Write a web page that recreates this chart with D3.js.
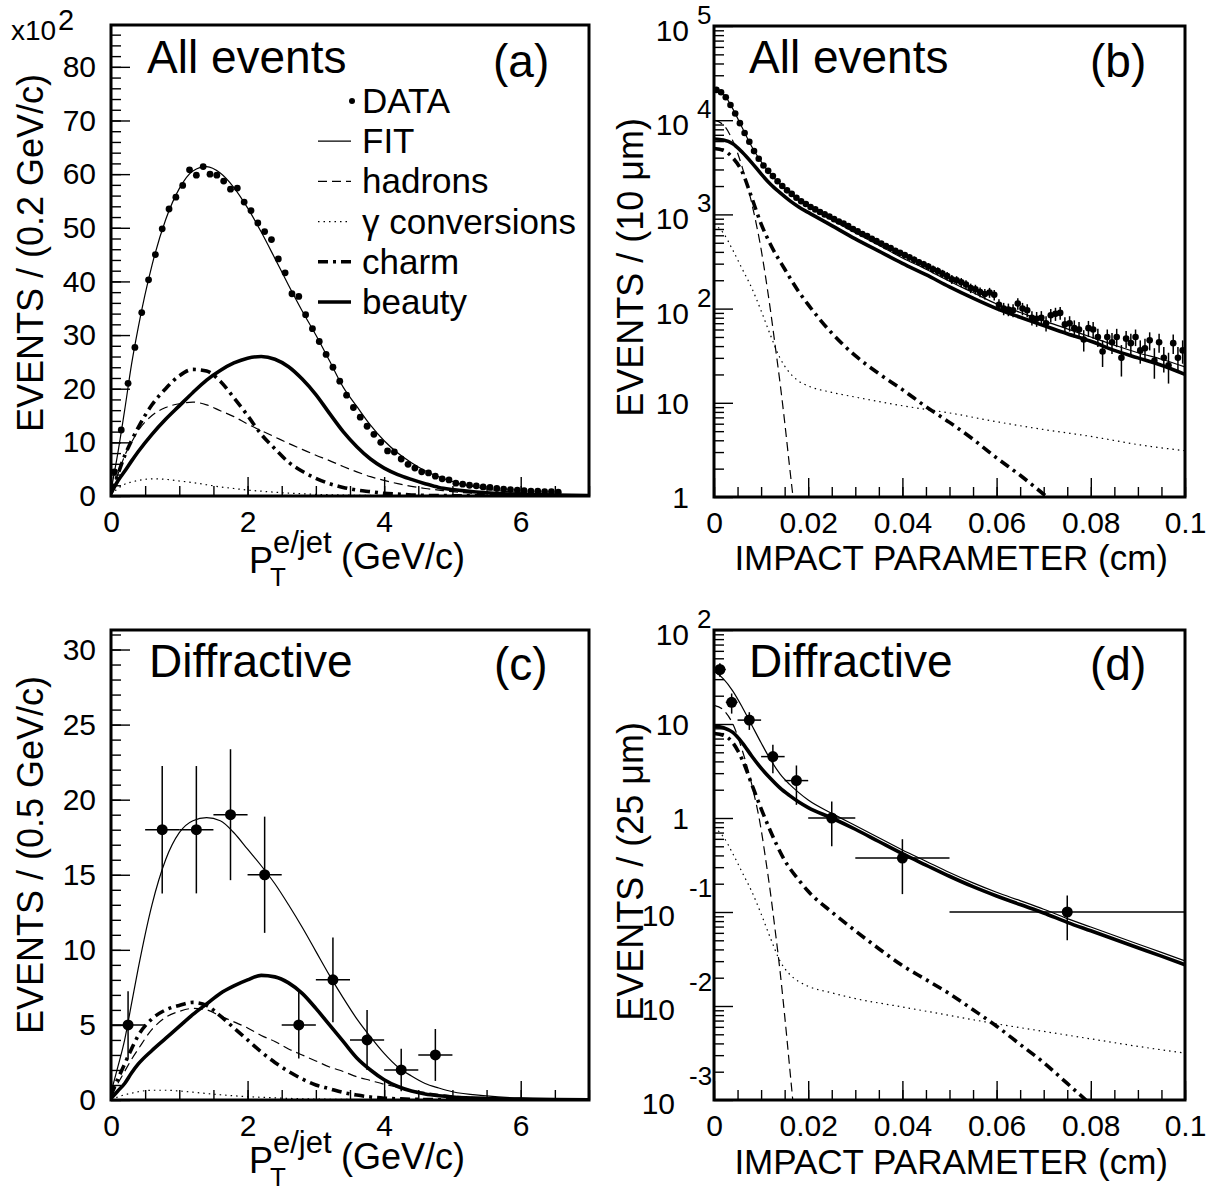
<!DOCTYPE html>
<html>
<head>
<meta charset="utf-8">
<script src="https://cdn.jsdelivr.net/npm/d3@7"></script>
<style>
  body { margin: 0; background: #fff; }
  text { font-family: "Liberation Sans", Arial, Helvetica, sans-serif; fill: #000; }
</style>
</head>
<body>
<svg id="chart" width="1211" height="1194"></svg>
<script>
// ---- panel (a): P_T e/jet, all events (x10^2 events per bin)
const ptDataX = [0.05, 0.15, 0.25, 0.35, 0.45, 0.55, 0.65, 0.75, 0.85, 0.95, 1.05, 1.15, 1.25, 1.35, 1.45,
  1.55, 1.65, 1.75, 1.85, 1.95, 2.05, 2.15, 2.25, 2.35, 2.45, 2.55, 2.65, 2.75, 2.85, 2.95, 3.05, 3.15, 3.25,
  3.35, 3.45, 3.55, 3.65, 3.75, 3.85, 3.95, 4.05, 4.15, 4.25, 4.35, 4.45, 4.55, 4.65, 4.75, 4.85, 4.95, 5.05,
  5.15, 5.25, 5.35, 5.45, 5.55, 5.65, 5.75, 5.85, 5.95, 6.05, 6.15, 6.25, 6.35, 6.45, 6.55];
const ptDataA = [4.5, 12.3, 21, 27.7, 34.2, 40.3, 45, 49.8, 53.5, 55.7, 57.9, 60.8, 59.8, 61.4, 60,
  59.8, 58.7, 57.2, 57.4, 54.8, 53.2, 50.9, 49.3, 47.8, 44.2, 41.6, 37.7, 37.2, 33.8, 31.2, 28.8, 26.4, 24,
  21.4, 18.8, 16.5, 14.7, 13, 11.5, 10, 8.4, 8.2, 6.9, 5.9, 5.2, 4.5, 4.3, 3.7, 3.2, 3.0, 2.4,
  2.2, 2.0, 1.9, 1.7, 1.6, 1.4, 1.3, 1.2, 1.1, 1.0, 0.9, 0.9, 0.8, 0.8, 0.7];

const ptGrid = [0, 0.1, 0.2, 0.3, 0.4, 0.6, 0.8, 1.0, 1.2, 1.4, 1.6, 1.8, 2.0, 2.2, 2.4, 2.6, 2.8, 3.0,
  3.2, 3.4, 3.6, 3.8, 4.0, 4.2, 4.4, 4.6, 4.8, 5.0, 5.5, 6.0, 6.5, 7.0];
const fitA = [1, 8, 16, 24.5, 31.5, 43, 51.5, 57.3, 60.6, 61.4, 60.2, 57.5, 53.7, 49.2, 44.3, 39.3, 34.5, 30,
  25.2, 20.3, 16.7, 13.2, 10.3, 8.0, 6.2, 4.7, 3.6, 2.7, 1.3, 0.6, 0.3, 0.15];
const beautyA = [0.5, 2.8, 4.6, 6.5, 8.3, 11.5, 14.3, 16.8, 19.3, 21.6, 23.4, 24.8, 25.7, 26.0, 25.5, 24.1, 21.8, 18.9,
  15.4, 12.0, 9.2, 6.9, 5.2, 4.0, 3.1, 2.3, 1.6, 1.2, 0.6, 0.3, 0.2, 0.1];
const charmA = [0.5, 4.0, 7.5, 10.3, 12.8, 17.0, 20.0, 22.4, 23.6, 23.3, 21.4, 18.3, 15.0, 11.5, 8.8, 6.3, 4.6, 3.3,
  2.3, 1.6, 1.1, 0.8, 0.5, 0.35, 0.2, 0.12, 0.08, 0.05, 0.02, 0.01, 0, 0];
const hadronsA = [0.5, 4.0, 7.5, 10.0, 12.2, 15.0, 16.5, 17.2, 17.5, 17.0, 15.9, 14.8, 13.4, 12.2, 11.0, 9.8, 8.7, 7.6,
  6.6, 5.5, 4.5, 3.6, 2.9, 2.3, 1.8, 1.4, 1.1, 0.8, 0.4, 0.2, 0.1, 0.05];
const gammaA = [0.3, 1.4, 2.2, 2.6, 2.9, 3.2, 3.1, 2.8, 2.5, 2.1, 1.7, 1.4, 1.1, 0.9, 0.7, 0.55, 0.42, 0.3,
  0.24, 0.18, 0.13, 0.1, 0.07, 0.05, 0.04, 0.03, 0.02, 0.02, 0.01, 0, 0, 0];

// ---- panel (c): P_T e/jet, diffractive
const ptDataCX = [0.25, 0.75, 1.25, 1.75, 2.25, 2.75, 3.25, 3.75, 4.25, 4.75];
const ptDataC = [5, 18, 18, 19, 15, 5, 8, 4, 2, 3];
const ptErrC = [2.24, 4.24, 4.24, 4.36, 3.87, 2.24, 2.83, 2, 1.41, 1.73];
const fitC = [0.5, 2.2, 4.0, 6.4, 8.8, 13.0, 16.0, 17.8, 18.6, 18.8, 18.6, 17.8, 16.7, 15.6, 14.4, 13.0, 11.5, 9.9,
  8.3, 6.8, 5.4, 4.2, 3.1, 2.2, 1.6, 1.1, 0.8, 0.55, 0.28, 0.12, 0.06, 0.03];
const beautyC = [0.1, 0.6, 1.1, 1.8, 2.4, 3.3, 4.1, 4.9, 5.7, 6.4, 7.1, 7.6, 8.0, 8.3, 8.2, 7.8, 7.1, 6.1,
  5.0, 3.9, 2.8, 2.0, 1.35, 0.9, 0.6, 0.4, 0.28, 0.2, 0.1, 0.06, 0.03, 0.02];
const charmC = [0.3, 1.4, 2.4, 3.4, 4.3, 5.4, 6.0, 6.3, 6.5, 6.3, 5.6, 4.8, 4.0, 3.2, 2.5, 1.9, 1.4, 1.0,
  0.75, 0.5, 0.33, 0.2, 0.12, 0.08, 0.05, 0.03, 0.02, 0.01, 0, 0, 0, 0];
const hadronsC = [0.3, 1.1, 1.9, 2.7, 3.4, 4.7, 5.5, 5.9, 6.1, 6.0, 5.6, 5.2, 4.8, 4.3, 3.9, 3.4, 3.0, 2.6,
  2.2, 1.9, 1.55, 1.3, 1.05, 0.85, 0.65, 0.5, 0.38, 0.28, 0.13, 0.07, 0.04, 0.02];
const gammaC = [0.05, 0.2, 0.35, 0.45, 0.55, 0.65, 0.65, 0.6, 0.52, 0.43, 0.35, 0.28, 0.22, 0.18, 0.14, 0.11, 0.08, 0.06,
  0.05, 0.04, 0.03, 0.02, 0.01, 0, 0, 0, 0, 0, 0, 0, 0, 0];

// ---- panel (b): impact parameter, all events (per 10 um)
const ipDataBX = [0.0005, 0.0015, 0.0025, 0.0035, 0.0045, 0.0055, 0.0065, 0.0075, 0.0085, 0.0095,
  0.0105, 0.0115, 0.0125, 0.0135, 0.0145, 0.0155, 0.0165, 0.0175, 0.0185, 0.0195,
  0.0205, 0.0215, 0.0225, 0.0235, 0.0245, 0.0255, 0.0265, 0.0275, 0.0285, 0.0295,
  0.0305, 0.0315, 0.0325, 0.0335, 0.0345, 0.0355, 0.0365, 0.0375, 0.0385, 0.0395,
  0.0405, 0.0415, 0.0425, 0.0435, 0.0445, 0.0455, 0.0465, 0.0475, 0.0485, 0.0495,
  0.0505, 0.0515, 0.0525, 0.0535, 0.0545, 0.0555, 0.0565, 0.0575, 0.0585, 0.0595,
  0.0605, 0.0615, 0.0625, 0.0635, 0.0645, 0.0655, 0.0665, 0.0675, 0.0685, 0.0695,
  0.0705, 0.0715, 0.0725, 0.0735, 0.0745, 0.0755, 0.0765, 0.0775, 0.0785, 0.0795,
  0.0805, 0.0815, 0.0825, 0.0835, 0.0845, 0.0855, 0.0865, 0.0875, 0.0885, 0.0895,
  0.0905, 0.0915, 0.0925, 0.0935, 0.0945, 0.0955, 0.0965, 0.0975, 0.0985, 0.0995];
const ipDataB = [21000, 19800, 17500, 14500, 11800, 9300, 7300, 5900, 4700, 3900,
  3300, 2900, 2550, 2250, 2000, 1800, 1650, 1500, 1380, 1290,
  1200, 1130, 1060, 1000, 950, 890, 840, 800, 750, 700,
  660, 620, 590, 550, 520, 490, 460, 440, 410, 390,
  370, 350, 330, 310, 295, 280, 262, 250, 235, 222,
  205, 200, 190, 180, 165, 160, 150, 143, 148, 140,
  110, 100, 98, 96, 113, 100, 96, 80, 78, 80,
  70, 85, 88, 90, 68, 70, 62, 60, 47, 62,
  60, 50, 35, 50, 44, 50, 30, 48, 43, 50,
  36, 38, 46, 28, 44, 30, 25, 43, 30, 36];
const ipErrB = [220, 210, 200, 180, 160, 145, 130, 115, 105, 95,
  85, 80, 75, 70, 67, 63, 60, 58, 55, 53,
  52, 50, 49, 47, 46, 45, 43, 42, 41, 40,
  38, 37, 36, 35, 34, 33, 32, 31, 30, 30,
  29, 28, 27, 26, 26, 25, 24, 24, 23, 22,
  22, 21, 21, 20, 19, 19, 18, 18, 18, 18,
  16, 15, 15, 15, 16, 15, 15, 14, 14, 14,
  13, 14, 14, 14, 13, 13, 13, 12, 12, 12,
  12, 11, 11, 10, 11, 11, 11, 10, 11, 10,
  10, 10, 10, 10, 10, 9, 9, 10, 9, 10];

const ipGrid = [0, 0.002, 0.004, 0.006, 0.008, 0.010, 0.012, 0.014, 0.016, 0.018, 0.02, 0.025, 0.03,
  0.035, 0.04, 0.045, 0.05, 0.055, 0.06, 0.065, 0.07, 0.075, 0.08, 0.085, 0.09, 0.095, 0.1];
const fitB = [21400, 19000, 13200, 8300, 5250, 3630, 2690, 2090, 1700, 1410, 1230, 870, 640,
  470, 345, 262, 195, 148, 112, 91, 74, 61, 50, 41, 34, 29, 24];
const beautyB = [6310, 6170, 5620, 4570, 3550, 2690, 2090, 1700, 1410, 1200, 1050, 760, 550,
  407, 302, 229, 170, 129, 100, 81, 66, 54, 45, 36, 30, 25, 20];

const hadronsX = [0, 0.002, 0.004, 0.006, 0.008, 0.010, 0.011, 0.012, 0.013, 0.014, 0.015, 0.016, 0.017];
const hadronsB = [10000, 8910, 6030, 3160, 1320, 427, 209, 95, 40, 16.6, 6.3, 2.2, 0.8];
const charmBX = [0, 0.002, 0.004, 0.006, 0.008, 0.010, 0.012, 0.015, 0.018, 0.02, 0.025, 0.03, 0.035,
  0.04, 0.045, 0.05, 0.055, 0.06, 0.065, 0.07, 0.072];
const charmB = [5010, 4790, 3980, 2820, 1510, 794, 479, 263, 151, 110, 55, 31.6, 20.4,
  13.8, 9.1, 6.2, 4.1, 2.6, 1.7, 1.07, 0.89];
const gammaX = [0, 0.002, 0.004, 0.006, 0.008, 0.010, 0.012, 0.014, 0.016, 0.018, 0.02, 0.025, 0.03,
  0.04, 0.05, 0.06, 0.07, 0.08, 0.09, 0.1];
const gammaB = [794, 631, 417, 263, 166, 95, 52, 30, 21, 17, 15.1, 12.9, 11.5, 9.3, 7.8, 6.3, 5.2, 4.4, 3.6, 3.1];

// ---- panel (d): impact parameter, diffractive (per 25 um)
const ipDataDX = [0.00125, 0.00375, 0.0075, 0.0125, 0.0175, 0.025, 0.04, 0.075];
const ipHalfWD = [0.00125, 0.00125, 0.0025, 0.0025, 0.0025, 0.005, 0.01, 0.025];
const ipDataD = [38, 17, 11, 4.5, 2.5, 1.0, 0.375, 0.1];
const ipErrD = [6.2, 4.1, 2.35, 1.5, 1.12, 0.5, 0.22, 0.05];
const fitD = [36.3, 30.2, 22.4, 15.1, 9.77, 6.31, 4.17, 2.95, 2.29, 1.86, 1.55, 1.12, 0.832,
  0.617, 0.457, 0.347, 0.263, 0.204, 0.162, 0.132, 0.107, 0.0851, 0.0692, 0.0562, 0.0457, 0.0372, 0.0302];
const beautyD = [9.55, 9.12, 8.13, 6.31, 4.57, 3.39, 2.63, 2.09, 1.74, 1.48, 1.29, 1.0, 0.759,
  0.562, 0.417, 0.316, 0.240, 0.186, 0.148, 0.120, 0.0977, 0.0776, 0.0631, 0.0513, 0.0417, 0.0339, 0.0275];
const hadronsD = [15.8, 14.1, 10.0, 5.25, 2.29, 0.759, 0.355, 0.158, 0.0631, 0.024, 0.00794, 0.0024, 0.00071];
const charmDX = [0, 0.002, 0.004, 0.006, 0.008, 0.010, 0.012, 0.015, 0.018, 0.02, 0.025, 0.03, 0.035,
  0.04, 0.045, 0.05, 0.055, 0.06, 0.065, 0.07, 0.075, 0.08];
const charmD = [7.94, 7.59, 6.31, 4.17, 2.29, 1.26, 0.724, 0.355, 0.219, 0.166, 0.1, 0.0631, 0.0407,
  0.0269, 0.0191, 0.0135, 0.00912, 0.0061, 0.0039, 0.0025, 0.0015, 0.0009];
const gammaD = [0.794, 0.631, 0.417, 0.263, 0.166, 0.0955, 0.0525, 0.0302, 0.0219, 0.0182, 0.0162, 0.0138, 0.012,
  0.00977, 0.00794, 0.00646, 0.00537, 0.00447, 0.00372, 0.00316];

const legendLabels = ['DATA', 'FIT', 'hadrons', 'γ conversions', 'charm', 'beauty'];
const ipTickLabels = ['0', '0.02', '0.04', '0.06', '0.08', '0.1'];

// line styles (ROOT-like)
const styles = {
  fit: { w: 1.2, dash: null },
  hadrons: { w: 1.2, dash: '9 5' },
  gamma: { w: 1.2, dash: '1.5 4' },
  charm: { w: 3.6, dash: '10 5 3 5' },
  beauty: { w: 3.6, dash: null },
};

const svg = d3.select('#chart');

const makePanel = (id, left, right, top, bottom, x, y) => {
  const p = { id, left, right, top, bottom };
  p.x = x.range([left, right]);
  p.y = y.range([bottom, top]);
  p.g = svg.append('g').attr('class', `panel-${id}`);
  svg.append('clipPath').attr('id', `clip-${id}`)
    .append('rect')
    .attr('x', left).attr('y', top)
    .attr('width', right - left).attr('height', bottom - top);
  p.plot = p.g.append('g').attr('clip-path', `url(#clip-${id})`);
  return p;
};

const pA = makePanel('a', 111, 589, 25, 496, d3.scaleLinear().domain([0, 7]), d3.scaleLinear().domain([0, 87.8]));
const pB = makePanel('b', 714, 1185, 26, 497, d3.scaleLinear().domain([0, 0.1]), d3.scaleLog().domain([1, 1e5]));
const pC = makePanel('c', 111, 589, 630, 1100, d3.scaleLinear().domain([0, 7]), d3.scaleLinear().domain([0, 31.3]));
const pD = makePanel('d', 714, 1185, 630, 1100, d3.scaleLinear().domain([0, 0.1]), d3.scaleLog().domain([1e-3, 1e2]));

const drawCurve = (p, xs, ys, st) => {
  const line = d3.line()
    .x((d, i) => p.x(xs[i]))
    .y((d) => p.y(d))
    .curve(d3.curveMonotoneX);
  p.plot.append('path')
    .datum(ys)
    .attr('d', line)
    .attr('fill', 'none')
    .attr('stroke', '#000')
    .attr('stroke-width', st.w)
    .attr('stroke-dasharray', st.dash)
    .attr('stroke-linejoin', 'round');
};

const drawPoints = (p, xs, ys, r, errs, halfW) => {
  const g = p.plot.append('g');
  ys.forEach((v, i) => {
    const cx = p.x(xs[i]);
    const cy = p.y(v);
    if (errs) {
      g.append('line')
        .attr('x1', cx).attr('x2', cx)
        .attr('y1', p.y(v + errs[i]))
        .attr('y2', p.y(Math.max(v - errs[i], p.y.domain()[0] * 0.5)))
        .attr('stroke', '#000').attr('stroke-width', 1.5);
    }
    if (halfW) {
      const hw = Array.isArray(halfW) ? halfW[i] : halfW;
      g.append('line')
        .attr('x1', p.x(xs[i] - hw)).attr('x2', p.x(xs[i] + hw))
        .attr('y1', cy).attr('y2', cy)
        .attr('stroke', '#000').attr('stroke-width', 1.5);
    }
    g.append('circle').attr('cx', cx).attr('cy', cy).attr('r', r).attr('fill', '#000');
  });
};

const drawFrame = (p) => {
  p.g.append('rect')
    .attr('x', p.left).attr('y', p.top)
    .attr('width', p.right - p.left).attr('height', p.bottom - p.top)
    .attr('fill', 'none').attr('stroke', '#000').attr('stroke-width', 3);
};

const tickStyle = (sel) => {
  sel.select('.domain').remove();
  sel.selectAll('line').attr('stroke', '#000').attr('stroke-width', 1.4);
  sel.selectAll('text').attr('font-size', 30).attr('fill', '#000')
    .attr('font-family', '"Liberation Sans", Arial, sans-serif');
};

const drawXAxis = (p, major, minor, fmt) => {
  p.g.append('g').attr('transform', `translate(0,${p.bottom})`)
    .call(d3.axisBottom(p.x).tickValues(minor).tickSize(-10).tickFormat(''))
    .call(tickStyle);
  p.g.append('g').attr('transform', `translate(0,${p.bottom})`)
    .call(d3.axisBottom(p.x).tickValues(major).tickSize(-19).tickPadding(15).tickFormat(fmt))
    .call(tickStyle);
};

const drawYAxis = (p, major, minor, fmt) => {
  p.g.append('g').attr('transform', `translate(${p.left},0)`)
    .call(d3.axisLeft(p.y).tickValues(minor).tickSize(-10).tickFormat(''))
    .call(tickStyle);
  p.g.append('g').attr('transform', `translate(${p.left},0)`)
    .call(d3.axisLeft(p.y).tickValues(major).tickSize(-19).tickPadding(15).tickFormat(fmt))
    .call(tickStyle);
};

const addText = (g, x, y, str, size, anchor) => g.append('text')
  .attr('x', x).attr('y', y)
  .attr('font-size', size)
  .attr('text-anchor', anchor || 'start')
  .text(str);

// log-axis labels in ROOT style: "10" with a raised exponent
const drawLogLabels = (p, decades) => {
  const g = p.g.append('g');
  decades.forEach((v) => {
    const e = Math.round(Math.log10(v));
    const ty = p.y(v);
    if (e === 0 || e === 1) {
      addText(g, p.left - 25, ty + 11, e === 0 ? '1' : '10', 30, 'end');
    } else if (e > 1) {
      addText(g, p.left - 25, ty + 15, '10', 30, 'end');
      addText(g, p.left - 17, ty - 2, String(e), 26, 'start');
    } else {
      addText(g, p.left - 39, ty + 14, '10', 30, 'end');
      addText(g, p.left - 25, ty - 15, String(e), 26, 'start');
    }
  });
};

const logMinor = (lo, hi) => {
  const out = [];
  for (let e = lo; e < hi; e += 1) {
    for (let k = 2; k <= 9; k += 1) out.push(k * 10 ** e);
  }
  return out;
};

// ---------- panel (a)
drawCurve(pA, ptGrid, gammaA, styles.gamma);
drawCurve(pA, ptGrid, hadronsA, styles.hadrons);
drawCurve(pA, ptGrid, charmA, styles.charm);
drawCurve(pA, ptGrid, beautyA, styles.beauty);
drawCurve(pA, ptGrid, fitA, styles.fit);
drawPoints(pA, ptDataX, ptDataA, 3.4, null, null);

// ---------- panel (c)
drawCurve(pC, ptGrid, gammaC, styles.gamma);
drawCurve(pC, ptGrid, hadronsC, styles.hadrons);
drawCurve(pC, ptGrid, charmC, styles.charm);
drawCurve(pC, ptGrid, beautyC, styles.beauty);
drawCurve(pC, ptGrid, fitC, styles.fit);
drawPoints(pC, ptDataCX, ptDataC, 5.5, ptErrC, 0.25);

// ---------- panel (b)
drawCurve(pB, gammaX, gammaB, styles.gamma);
drawCurve(pB, hadronsX, hadronsB, styles.hadrons);
drawCurve(pB, charmBX, charmB, styles.charm);
drawCurve(pB, ipGrid, beautyB, styles.beauty);
drawCurve(pB, ipGrid, fitB, styles.fit);
drawPoints(pB, ipDataBX, ipDataB, 3.3, ipErrB, 0.0005);

// ---------- panel (d)
drawCurve(pD, gammaX, gammaD, styles.gamma);
drawCurve(pD, hadronsX, hadronsD, styles.hadrons);
drawCurve(pD, charmDX, charmD, styles.charm);
drawCurve(pD, ipGrid, beautyD, styles.beauty);
drawCurve(pD, ipGrid, fitD, styles.fit);
drawPoints(pD, ipDataDX, ipDataD, 5.5, ipErrD, ipHalfWD);

// ---------- axes
const ptMajor = [0, 2, 4, 6];
const ptMinor = d3.range(0, 7.01, 0.5);
const ipMajor = [0, 0.02, 0.04, 0.06, 0.08, 0.1];
const ipMinor = d3.range(0, 0.1001, 0.005);

[pA, pC].forEach((p) => drawXAxis(p, ptMajor, ptMinor, d3.format('d')));
[pB, pD].forEach((p) => drawXAxis(p, ipMajor, ipMinor, (d, i) => ipTickLabels[i]));

drawYAxis(pA, d3.range(0, 81, 10), d3.range(0, 87, 2), d3.format('d'));
drawYAxis(pC, d3.range(0, 31, 5), d3.range(0, 31.2, 1), d3.format('d'));

const decB = [1, 10, 100, 1e3, 1e4, 1e5];
const decD = [1e-3, 1e-2, 1e-1, 1, 10, 100];
drawYAxis(pB, decB, logMinor(0, 5), () => '');
drawYAxis(pD, decD, logMinor(-3, 2), () => '');
drawLogLabels(pB, decB);
drawLogLabels(pD, decD);

[pA, pB, pC, pD].forEach(drawFrame);

// ---------- texts
const txt = svg.append('g');
addText(txt, 11, 40, 'x10', 28);
addText(txt, 58, 30, '2', 29);

addText(txt, 147, 73, 'All events', 46);
addText(txt, 493, 77, '(a)', 46);
addText(txt, 749, 73, 'All events', 46);
addText(txt, 1090, 77, '(b)', 46);
addText(txt, 149, 677, 'Diffractive', 46);
addText(txt, 494, 680, '(c)', 46);
addText(txt, 749, 677, 'Diffractive', 46);
addText(txt, 1090, 680, '(d)', 46);

const yTitle = (x, y, str) => txt.append('text')
  .attr('transform', `translate(${x},${y}) rotate(-90)`)
  .attr('text-anchor', 'end')
  .attr('font-size', 36)
  .text(str);
yTitle(43, 74, 'EVENTS / (0.2 GeV/c)');
yTitle(643, 118, 'EVENTS / (10 μm)');
yTitle(43, 676, 'EVENTS / (0.5 GeV/c)');
yTitle(643, 722, 'EVENTS / (25 μm)');

// P_T^{e/jet}(GeV/c) built from pieces, as ROOT's TLatex lays it out
const ptTitle = (yBase) => {
  addText(txt, 249, yBase, 'P', 36);
  addText(txt, 270, yBase + 13, 'T', 26);
  addText(txt, 273, yBase - 20, 'e/jet', 31);
  addText(txt, 341, yBase - 4, '(GeV/c)', 36);
};
ptTitle(573);
ptTitle(1173);
addText(txt, 1168, 570, 'IMPACT PARAMETER (cm)', 35, 'end');
addText(txt, 1168, 1174, 'IMPACT PARAMETER (cm)', 35, 'end');

// ---------- legend (panel a)
const leg = svg.append('g');
const legStyles = [null, styles.fit, styles.hadrons, styles.gamma, styles.charm, styles.beauty];
legendLabels.forEach((lab, i) => {
  const cy = 101 + i * 40.2;
  if (i === 0) {
    leg.append('circle').attr('cx', 352).attr('cy', cy).attr('r', 3).attr('fill', '#000');
  } else {
    const st = legStyles[i];
    leg.append('line')
      .attr('x1', 318).attr('x2', 351).attr('y1', cy).attr('y2', cy)
      .attr('stroke', '#000').attr('stroke-width', st.w)
      .attr('stroke-dasharray', st.dash);
  }
  addText(leg, 362, cy + 12, lab, 35);
});
</script>
</body>
</html>
